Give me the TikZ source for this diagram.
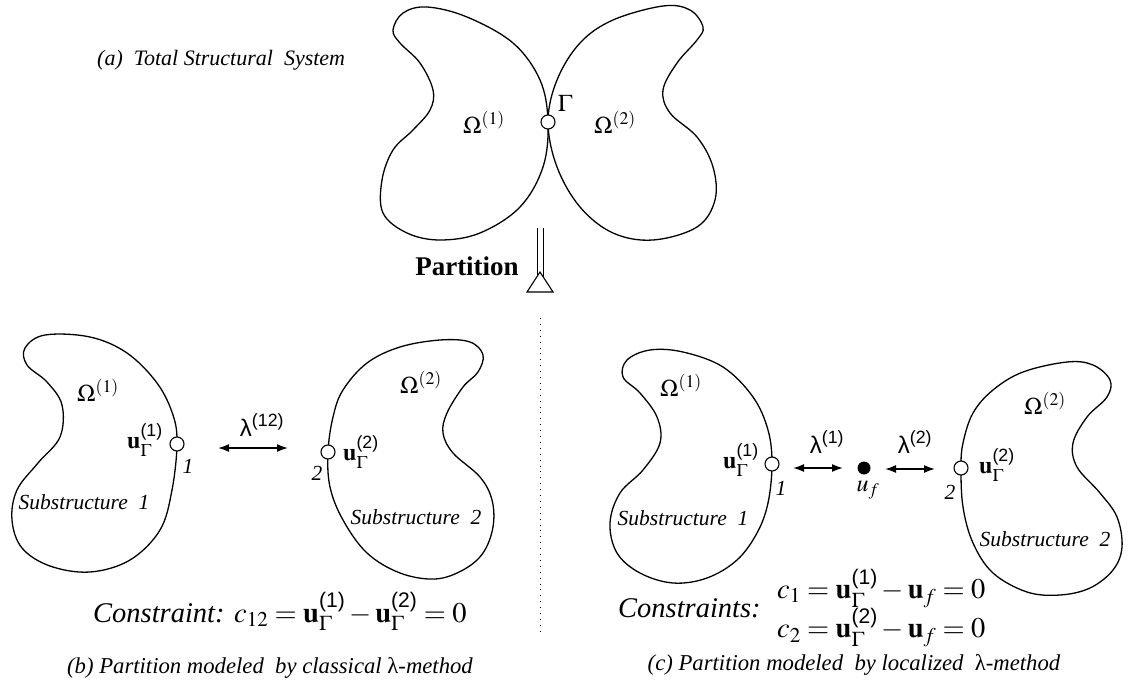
\documentclass[tikz,border=0pt]{standalone}
\usepackage{amsmath}
\usepackage{mathptmx}
\usepackage[no-math]{fontspec}
\setmainfont{Liberation Serif}
\newfontfamily\hv{Liberation Sans}
\usetikzlibrary{arrows.meta}
\newcommand{\sfp}[1]{\text{\hv(#1)}}
\newcommand{\uG}[1]{\mathbf{u}_{\Gamma}^{\sfp{#1}}}
\newcommand{\lamb}[1]{\text{\hv λ}^{\sfp{#1}}}
\tikzset{
  blob/.style={line width=1.3pt},
  opencirc/.style={circle, draw, fill=white, line width=1.1pt, minimum size=14pt, inner sep=0pt},
  dotnode/.style={circle, fill=black, minimum size=13pt, inner sep=0pt},
  lab/.style={inner sep=0pt, font=\fontsize{24}{28}\selectfont},
  itl/.style={inner sep=0pt, font=\fontsize{21.5}{26}\selectfont\itshape},
  capt/.style={inner sep=0pt, font=\fontsize{22.7}{27}\selectfont\itshape},
  cons/.style={inner sep=0pt, font=\fontsize{28.5}{33}\selectfont},
  lamarrow/.style={{Latex[length=11pt,width=8pt]}-{Latex[length=11pt,width=8pt]}, line width=1.6pt},
}
\begin{document}
\begin{tikzpicture}[x=1pt,y=-1pt]
\useasboundingbox (0,0) rectangle (1142,690);

% (a) total system
\node[capt, font=\fontsize{22}{26}\selectfont\itshape, anchor=west] (ta) at (97,60) {(a)\ \ Total Structural\ \ System};
\draw[blob] plot[smooth cycle, tension=0.6] coordinates {(548,122) (540,80) (513,43) (467,17) (427,7) (403,13) (393,30) (400,43) (420,63) (433,90) (430,110) (413,130) (393,150) (382,180) (383,213) (407,233) (440,240) (480,233) (520,207) (543,167)};
\draw[blob] plot[smooth cycle, tension=0.6] coordinates {(548,122) (557,80) (580,43) (613,20) (663,6) (690,10) (703,27) (697,40) (677,63) (663,90) (670,113) (697,137) (713,167) (715,200) (697,227) (653,240) (613,233) (580,207) (557,167)};
\node[opencirc] (gam) at (548,122) {};
\node[lab] (gl) at (565,103) {$\Gamma$};
\node[lab] (o1a) at (484,122) {$\Omega^{(1)}$};
\node[lab] (o2a) at (615,122) {$\Omega^{(2)}$};

% partition arrow
\node[inner sep=0pt, font=\fontsize{27}{32}\selectfont\bfseries] (part) at (467,266) {Partition};
\coordinate (pa) at (540,228);
\coordinate (pb) at (540,292);
\draw[line width=1pt] ([xshift=-3pt]pa) -- ([xshift=-3pt]pb) ([xshift=3pt]pa) -- ([xshift=3pt]pb);
\draw[line width=1.1pt, fill=white] ([xshift=-13pt]pb) -- ([xshift=13pt]pb) -- ([yshift=20pt]pb) -- cycle;
\coordinate (d1) at (540,318);
\coordinate (d2) at (540,633);
\draw[line width=0.9pt, dash pattern=on 0.9pt off 5pt] (d1) -- (d2);

% (b) classical
\draw[blob] plot[smooth cycle, tension=0.6] coordinates {(177,444) (172,490) (160,530) (130,560) (90,572) (50,566) (22,548) (12,520) (17,490) (38,463) (60,437) (62,405) (47,382) (27,365) (25,348) (45,335) (90,337) (127,353) (157,383) (173,415)};
\draw[blob] plot[smooth cycle, tension=0.6] coordinates {(328,452) (330,487) (343,520) (367,553) (400,573) (435,579) (463,570) (483,553) (493,527) (492,500) (480,477) (453,453) (443,433) (447,413) (463,387) (478,372) (483,355) (470,342) (440,340) (400,347) (367,363) (343,390) (333,417)};
\node[opencirc] (b1) at (177,444) {};
\node[opencirc] (b2) at (328,452) {};
\node[lab] (bo1) at (98,390) {$\Omega^{(1)}$};
\node[lab] (bu1) at (145,440) {$\uG{1}$};
\node[itl] (bn1) at (188,466) {1};
\node[lab] (bo2) at (421,382) {$\Omega^{(2)}$};
\node[lab] (bu2) at (361,452) {$\uG{2}$};
\node[itl] (bn2) at (317,473) {2};
\node[itl] (bs1) at (84,502) {Substructure\ \ 1};
\node[itl] (bs2) at (416,517) {Substructure\ \ 2};
\node[lab] (bl) at (262,425) {$\lamb{12}$};
\coordinate (ba1) at (218,448);
\coordinate (ba2) at (288,448);
\draw[lamarrow] (ba1) -- (ba2);
\node[cons, anchor=base west] (bc) at (93,622) {\textit{Constraint:} $c_{12}=\uG{1}-\uG{2}=0$};
\node[capt] (bcap) at (270,668) {(b) Partition modeled\ \ by classical {\upshape λ}-method};

% (c) localized
\draw[blob] plot[smooth cycle, tension=0.6] coordinates {(772,464) (768,503) (757,533) (737,560) (707,578) (673,583) (640,573) (617,553) (610,523) (620,493) (643,470) (660,443) (657,417) (640,393) (623,377) (627,360) (650,350) (683,352) (723,367) (753,397) (768,430)};
\draw[blob] plot[smooth cycle, tension=0.6] coordinates {(961,468) (963,507) (973,543) (993,573) (1027,592) (1060,595) (1090,588) (1113,570) (1122,547) (1117,517) (1100,493) (1077,467) (1073,443) (1087,417) (1107,397) (1110,380) (1093,365) (1067,362) (1023,372) (993,390) (973,413) (963,443)};
\node[opencirc] (c1) at (772,464) {};
\node[opencirc] (c2) at (961,468) {};
\node[dotnode] (uf) at (864,468) {};
\node[lab] (co1) at (681,385) {$\Omega^{(1)}$};
\node[lab] (cu1) at (741,460) {$\uG{1}$};
\node[itl] (cn1) at (781,488) {1};
\node[lab] (co2) at (1045,403) {$\Omega^{(2)}$};
\node[lab] (cu2) at (997,465) {$\uG{2}$};
\node[itl] (cn2) at (950,492) {2};
\node[lab] (cuf) at (868,490) {$u_f$};
\node[itl] (cs1) at (683,518) {Substructure\ \ 1};
\node[itl] (cs2) at (1045,539) {Substructure\ \ 2};
\node[lab] (cl1) at (827,442) {$\lamb{1}$};
\node[lab] (cl2) at (915,442) {$\lamb{2}$};
\coordinate (ca1) at (793,468);
\coordinate (ca2) at (843,468);
\coordinate (ca3) at (885,469);
\coordinate (ca4) at (935,469);
\draw[lamarrow] (ca1) -- (ca2);
\draw[lamarrow] (ca3) -- (ca4);
\node[cons, anchor=west] (cc) at (618,608) {\textit{Constraints:}};
\node[cons, anchor=west, align=left] (ce) at (777,608) {$c_1=\uG{1}-\mathbf{u}_f=0$\\[0pt]$c_2=\uG{2}-\mathbf{u}_f=0$};
\node[capt] (ccap) at (854,665) {(c) Partition modeled\ \ by localized\ \ {\upshape λ}-method};
\end{tikzpicture}
\end{document}
